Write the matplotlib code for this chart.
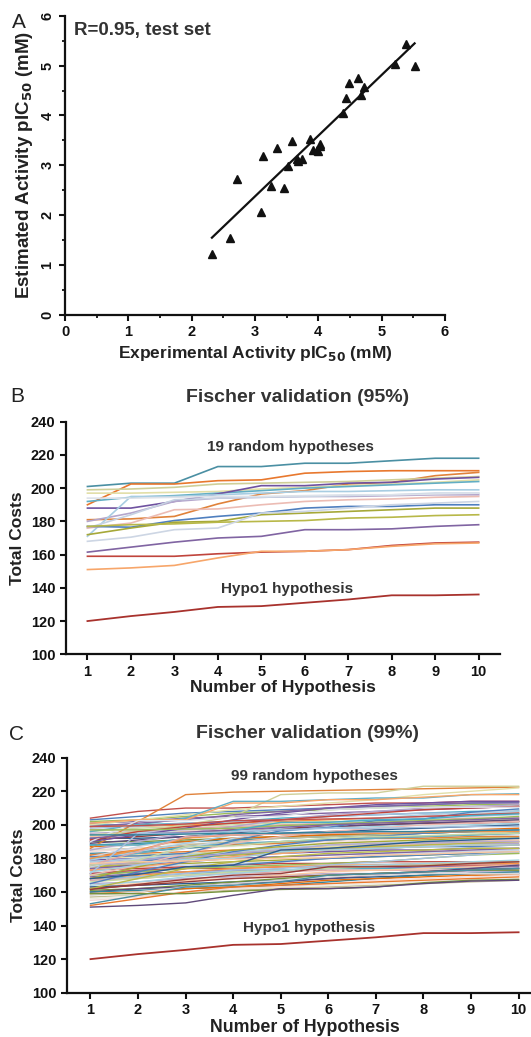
import numpy as np
import matplotlib
matplotlib.use("Agg")
import matplotlib.pyplot as plt
from matplotlib.ticker import MultipleLocator

plt.rcParams['font.family'] = ['Liberation Sans', 'DejaVu Sans']

# ---------------- Panel A data ----------------
exp_act = [2.32, 2.61, 2.72, 3.10, 3.12, 3.26, 3.34, 3.45, 3.52, 3.59, 3.66, 3.68,
           3.74, 3.87, 3.92, 3.98, 4.00, 4.02, 4.03, 4.39, 4.44, 4.48, 4.62, 4.67,
           4.72, 5.21, 5.39, 5.52]
est_act = [1.22, 1.55, 2.72, 2.06, 3.18, 2.58, 3.35, 2.55, 2.98, 3.48, 3.12, 3.08,
           3.12, 3.52, 3.30, 3.30, 3.28, 3.38, 3.42, 4.05, 4.35, 4.66, 4.76, 4.41,
           4.58, 5.03, 5.43, 5.00]

# ---------------- Panel B / C data ----------------
hyp_num = [1, 2, 3, 4, 5, 6, 7, 8, 9, 10]
hypo1 = [120, 123, 125.5, 128.5, 129, 131, 133, 135.5, 135.5, 136]

random19 = [
    [201, 203, 203, 213, 213, 215, 215, 216.5, 218, 218],
    [190, 202.5, 202.5, 204.5, 205, 209, 210, 210.5, 210.5, 210.5],
    [181, 181.5, 183, 190.5, 196.5, 198.5, 202.5, 203.5, 207.5, 209.5],
    [199, 199.5, 200.5, 202.5, 203, 203.5, 204, 205, 206, 207],
    [197, 197, 197.5, 198, 199.5, 200.5, 201.5, 202.5, 203.5, 205],
    [192, 194.5, 195.5, 197, 198.5, 200, 201, 202, 203, 204],
    [188, 188, 192, 196.5, 201.5, 201.5, 203, 203.5, 205.5, 206.5],
    [180, 185, 192, 194, 194.5, 195, 195, 195.5, 196, 196],
    [171, 195, 195, 196, 197, 198, 198, 198.5, 199, 199],
    [176, 184, 193, 194, 194.5, 195, 195.5, 196, 197, 197],
    [176, 179, 187, 187.5, 190, 192, 193, 193.5, 194.5, 195],
    [177, 176.5, 180.5, 183, 185, 188, 189, 189, 190, 190],
    [172, 176, 179.5, 180, 184, 185, 186, 187, 188, 188],
    [177, 178, 178.5, 179.5, 180, 180.5, 182, 182.5, 183.5, 184],
    [168, 170.5, 175, 176, 185, 186, 188, 190, 191, 192],
    [161.5, 164.5, 167.5, 170, 171, 175, 175, 175.5, 177, 178],
    [159, 159, 159, 160.5, 161.5, 162, 163, 165.5, 167, 167.5],
    [151, 152, 153.5, 158, 162, 162, 163, 165, 166.5, 167],
    [194, 194, 194.5, 195, 195, 195.5, 196, 196, 196.5, 197],
]

random_extra = [
    [203, 205, 207, 208, 209, 210, 211, 212, 213, 213.5],
    [204, 208, 210, 210, 211, 212, 213, 213, 214, 214],
    [202, 203, 205, 207, 208, 209, 210, 211, 212, 212],
    [201, 202, 204, 205, 206, 207, 208, 209, 210, 211],
    [200, 200, 201, 202, 204, 205, 206, 207, 208, 208.5],
    [199, 199, 200, 201, 202, 203, 204, 205, 206, 207],
    [198, 199, 201, 202, 203, 205, 206, 207, 207, 208],
    [197, 197, 198, 199, 200, 201, 202, 203, 204, 204],
    [196, 198, 199, 200, 201, 202, 202, 203, 203, 203],
    [195, 196, 197, 198, 199, 200, 201, 201, 202, 202],
    [194, 195, 196, 196, 197, 198, 199, 200, 200, 201],
    [193, 194, 196, 197, 199, 200, 201, 201, 202, 202],
    [192, 192, 193, 194, 195, 196, 197, 198, 199, 200],
    [191, 193, 195, 197, 198, 199, 200, 201, 201, 202],
    [190, 190, 191, 192, 193, 194, 194, 195, 196, 196],
    [189, 191, 193, 195, 197, 199, 200, 201, 202, 203],
    [188, 189, 190, 191, 192, 193, 194, 195, 196, 197],
    [187, 188, 190, 192, 193, 194, 195, 196, 197, 198],
    [186, 188, 189, 189, 190, 191, 192, 192, 193, 194],
    [185, 186, 188, 190, 192, 193, 194, 195, 196, 196],
    [185, 185, 186, 187, 188, 189, 190, 191, 192, 193],
    [184, 186, 187, 188, 189, 190, 191, 192, 192, 193],
    [183, 184, 186, 188, 190, 191, 192, 193, 194, 195],
    [182, 183, 184, 185, 186, 187, 188, 189, 190, 190],
    [182, 185, 187, 188, 189, 191, 192, 192, 193, 193],
    [181, 182, 183, 184, 185, 186, 186, 187, 188, 188],
    [180, 181, 182, 184, 186, 187, 188, 189, 190, 191],
    [180, 183, 187, 189, 190, 191, 192, 193, 194, 195],
    [179, 180, 181, 182, 183, 184, 185, 185, 186, 186],
    [178, 179, 181, 183, 185, 186, 187, 188, 189, 189],
    [178, 180, 182, 184, 186, 188, 189, 190, 191, 192],
    [177, 178, 179, 180, 181, 182, 183, 184, 184, 185],
    [176, 177, 179, 181, 183, 185, 187, 189, 190, 191],
    [176, 178, 181, 183, 184, 185, 186, 187, 187, 188],
    [175, 176, 177, 178, 179, 180, 181, 182, 183, 183],
    [175, 177, 180, 182, 184, 186, 187, 188, 189, 190],
    [174, 175, 176, 177, 178, 180, 182, 183, 184, 185],
    [174, 176, 178, 180, 181, 182, 183, 184, 185, 186],
    [173, 174, 175, 176, 177, 177, 178, 178, 178, 178],
    [173, 175, 178, 181, 183, 185, 186, 187, 188, 188],
    [172, 173, 174, 175, 176, 176, 177, 177, 177, 177],
    [171, 172, 174, 176, 178, 180, 181, 182, 183, 184],
    [171, 173, 174, 174, 175, 175, 176, 176, 176, 176],
    [170, 172, 174, 175, 176, 177, 178, 180, 182, 183],
    [169, 171, 172, 173, 173, 174, 174, 175, 175, 175],
    [168, 169, 171, 172, 173, 174, 174, 174, 174, 174],
    [168, 170, 172, 174, 175, 176, 176, 177, 177, 177],
    [167, 169, 171, 173, 174, 176, 178, 180, 182, 184],
    [167, 168, 170, 171, 172, 173, 173, 173, 173, 173],
    [166, 168, 170, 172, 173, 174, 175, 176, 177, 178],
    [165, 166, 168, 169, 170, 171, 171, 172, 172, 172],
    [164, 166, 169, 171, 173, 175, 176, 177, 178, 179],
    [163, 165, 167, 168, 170, 172, 173, 174, 175, 176],
    [163, 164, 165, 166, 167, 168, 169, 170, 171, 171],
    [162, 164, 166, 168, 169, 170, 171, 172, 173, 174],
    [161, 162, 164, 166, 168, 170, 171, 172, 173, 173],
    [160, 162, 163, 165, 166, 168, 170, 172, 174, 176],
    [160, 161, 162, 163, 164, 166, 168, 170, 171, 172],
    [159, 160, 162, 163, 165, 167, 168, 169, 170, 170],
    [158, 160, 163, 165, 167, 169, 170, 171, 171, 171],
    [157, 158, 160, 161, 162, 163, 164, 165, 166, 167],
    [156, 158, 160, 162, 163, 164, 165, 166, 167, 168],
    [155, 157, 160, 162, 163, 165, 167, 168, 169, 170],
    [153, 158, 163, 164, 166, 170, 171, 172, 173, 174],
    [152, 156, 160, 163, 164, 165, 166, 167, 168, 169],
    [186, 202, 218, 219.5, 220, 220.5, 221, 221.5, 222, 222.5],
    [194, 196, 200, 205, 218, 219, 219, 223, 223, 223],
    [200, 203, 206, 209, 211, 213, 215, 218, 220, 222],
    [196, 200, 204, 214, 214, 215, 216, 216, 218, 218.5],
    [190, 194, 198, 203, 207, 210, 212, 213, 214, 214],
    [185, 190, 195, 199, 203, 206, 208, 210, 211, 212],
    [179, 184, 189, 194, 198, 201, 204, 206, 207, 208],
    [175, 180, 186, 192, 196, 199, 202, 204, 205, 206],
    [170, 176, 183, 189, 193, 196, 198, 200, 201, 202],
    [165, 172, 178, 184, 188, 191, 193, 195, 196, 197],
    [168, 175, 181, 185, 187, 189, 190, 191, 192, 192],
    [162, 168, 174, 178, 181, 183, 184, 185, 186, 186],
    [181, 187, 192, 196, 199, 201, 203, 205, 207, 209],
    [199, 201, 203, 206, 208, 210, 211, 212, 213, 213],
    [191, 196, 199, 201, 203, 205, 207, 209, 210, 211],
]

colors19 = ['#4a8fa3', '#e8782e', '#e0823a', '#cfcf98', '#e2dfa8', '#62aec4',
            '#6f52a0', '#b4a6cc', '#a8cde2', '#c6d2e2', '#ecbcb4', '#4f7fbf',
            '#a6a838', '#b8b848', '#cdd6e4', '#8064a2', '#c0443c', '#f7a66a',
            '#dde2ea']
palette = ['#4f81bd', '#c0504d', '#9bbb59', '#8064a2', '#4bacc6', '#f79646',
           '#a7c0de', '#dfa7a6', '#c5d8a4', '#b9aacb', '#a1d1e0', '#fac8a2',
           '#2c5d8f', '#963c3a', '#76923c', '#5f497a', '#31849b', '#e46c0a',
           '#d9d9d9', '#c4bd97', '#eeece1', '#f2dcdb']

hypo_color = '#a8322d'
PX_W, PX_H = 531, 1037
fig = plt.figure(figsize=(PX_W / 100, PX_H / 100), dpi=100)
fig.patch.set_facecolor('white')


def frac(x0, y0, x1, y1):
    return [x0 / PX_W, 1 - y1 / PX_H, (x1 - x0) / PX_W, (y1 - y0) / PX_H]


def style_axes(ax, labelsize=10):
    for s in ['top', 'right']:
        ax.spines[s].set_visible(False)
    for s in ['left', 'bottom']:
        ax.spines[s].set_linewidth(1.6)
        ax.spines[s].set_color('#111111')
    ax.tick_params(which='major', direction='out', length=4, width=1.5,
                   colors='#111111', labelsize=labelsize)
    ax.tick_params(which='minor', direction='out', length=2.5, width=1.3,
                   colors='#111111')
    for lab in ax.get_xticklabels() + ax.get_yticklabels():
        lab.set_fontweight('bold')


# ---------------- Panel A ----------------
axA = fig.add_axes(frac(65, 15.7, 445, 315))
axA.plot(exp_act, est_act, linestyle='none', marker='^', color='#111111',
         markersize=5.5)
coef = np.polyfit(exp_act, est_act, 1)
xfit = np.array([min(exp_act), max(exp_act)])
axA.plot(xfit, np.polyval(coef, xfit), color='#111111', linewidth=1.6)
axA.set_xlim(0, 6)
axA.set_ylim(0, 6)
axA.xaxis.set_major_locator(MultipleLocator(1))
axA.yaxis.set_major_locator(MultipleLocator(1))
axA.xaxis.set_minor_locator(MultipleLocator(0.5))
axA.yaxis.set_minor_locator(MultipleLocator(0.5))
style_axes(axA, labelsize=10.5)
for lab in axA.get_yticklabels():
    lab.set_rotation(90)
    lab.set_va('center')
axA.set_xlabel('Experimental Activity pIC$_{\\mathbf{50}}$ (mM)', fontsize=12.5,
               fontweight='bold', color='#222222', labelpad=3)
axA.set_ylabel('Estimated Activity pIC$_{\\mathbf{50}}$ (mM)', fontsize=13.5,
               fontweight='bold', color='#222222', labelpad=4)
axA.text(0.025, 0.95, 'R=0.95, test set', transform=axA.transAxes,
         fontsize=13.5, fontweight='bold', color='#333333', va='center', ha='left')
fig.text(19 / PX_W, 1 - 23 / PX_H, 'A', fontsize=15, ha='center', va='center',
         color='#222222')


def fischer_panel(ax, lines, cols, lw):
    for i, vals in enumerate(lines):
        ax.plot(hyp_num, vals, color=cols[i % len(cols)], linewidth=lw,
                solid_joinstyle='round')
    ax.plot(hyp_num, hypo1, color=hypo_color, linewidth=1.3)
    ax.set_xlim(0.5, 10.5)
    ax.set_ylim(100, 240)
    ax.set_xticks(hyp_num)
    ax.yaxis.set_major_locator(MultipleLocator(20))
    style_axes(ax, labelsize=10.5)
    ax.set_ylabel('Total Costs', fontsize=12.5, fontweight='bold',
                  color='#222222', labelpad=4)


# ---------------- Panel B ----------------
axB = fig.add_axes(frac(65.7, 421.7, 500.4, 654.3))
fischer_panel(axB, random19, colors19, 1.2)
axB.set_xlabel('Number of Hypothesis', fontsize=12.5, fontweight='bold',
               color='#222222', labelpad=1)
axB.text(5.68, 224.8, '19 random hypotheses', ha='center', va='center',
         fontsize=11, fontweight='bold', color='#333333')
axB.text(5.6, 139.3, 'Hypo1 hypothesis', ha='center', va='center',
         fontsize=11, fontweight='bold', color='#333333')
fig.text(298 / PX_W, 1 - 397 / PX_H, 'Fischer validation (95%)', fontsize=14,
         fontweight='bold', ha='center', va='center', color='#333333')
fig.text(17 / PX_W, 1 - 397 / PX_H, 'B', fontsize=15, ha='center', va='center',
         color='#222222')

# ---------------- Panel C ----------------
axC = fig.add_axes(frac(66.7, 757.7, 542.4, 992.7))
allC = random_extra + random19
colsC = palette + colors19
fischer_panel(axC, allC, colsC, 1.0)
axC.set_xlabel('Number of Hypothesis', fontsize=12.8, fontweight='bold',
               color='#222222', labelpad=1)
axC.text(5.7, 229, '99 random hypotheses', ha='center', va='center',
         fontsize=11, fontweight='bold', color='#333333')
axC.text(5.6, 138.3, 'Hypo1 hypothesis', ha='center', va='center',
         fontsize=11, fontweight='bold', color='#333333')
fig.text(308 / PX_W, 1 - 733 / PX_H, 'Fischer validation (99%)', fontsize=14,
         fontweight='bold', ha='center', va='center', color='#333333')
fig.text(17 / PX_W, 1 - 734 / PX_H, 'C', fontsize=15, ha='center', va='center',
         color='#222222')

fig.savefig('out.png', dpi=100, facecolor='white')
